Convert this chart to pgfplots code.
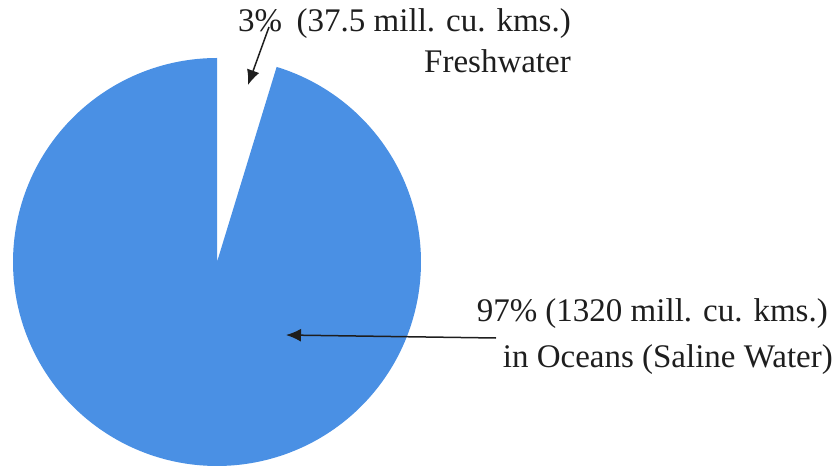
\documentclass[border=0pt]{standalone}
\usepackage{fontspec}
\setmainfont{Liberation Serif}
\usepackage{pgfplots}
\pgfplotsset{compat=1.18}
\usetikzlibrary{arrows.meta}

\definecolor{pieblue}{RGB}{74,144,228}
\definecolor{ink}{RGB}{30,30,30}

% pie: centre (217,204), radius 204 (page units),
% blue sector runs from 90 deg round to 73 deg (gap ~17 deg)
\def\cx{217}
\def\cy{204}
\def\rad{204}
\def\gapstart{90}
\def\gapend{73}

\begin{document}
\begin{tikzpicture}
  \begin{axis}[
      width=840bp, height=466bp,
      scale only axis,
      hide axis,
      xmin=0, xmax=840,
      ymin=0, ymax=466,
      clip=false,
    ]
    % keep the whole frame as the page
    \path (axis cs:0,0) rectangle (axis cs:840,466);

    % saline water sector
    \addplot[fill=pieblue, draw=none, domain=\gapstart:\gapend+360, samples=240]
      ({\cx+\rad*cos(x)}, {\cy+\rad*sin(x)}) -- (axis cs:\cx,\cy) -- cycle;

    \begin{scope}[font=\fontsize{33bp}{40bp}\selectfont, text=ink]
      \node[anchor=base west, inner sep=0pt] at (axis cs:238,434) {3\%};
      \node[anchor=base east, inner sep=0pt] at (axis cs:571,434) {(37.5 mill. cu. kms.)};
      \node[anchor=base east, inner sep=0pt] at (axis cs:571,393) {Freshwater};
      \node[anchor=base east, inner sep=0pt] at (axis cs:828,145) {97\% (1320 mill. cu. kms.)};
      \node[anchor=base east, inner sep=0pt] at (axis cs:833,99) {in Oceans (Saline Water)};
    \end{scope}

    \draw[ink, line width=1.5bp, -{Latex[length=15bp,width=13bp]}]
      (axis cs:269,439) -- (axis cs:248,381);
    \draw[ink, line width=1.5bp, -{Latex[length=15bp,width=13bp]}]
      (axis cs:496,128) -- (axis cs:286,131);
  \end{axis}
\end{tikzpicture}
\end{document}
